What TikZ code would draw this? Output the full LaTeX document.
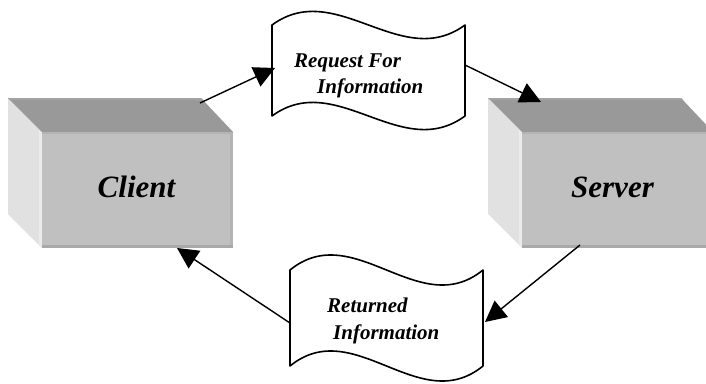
\documentclass[tikz,border=0pt]{standalone}
\usepackage{fontspec}
\setmainfont{Liberation Serif}
\usetikzlibrary{arrows.meta}
\definecolor{topface}{HTML}{999999}
\definecolor{toplight}{HTML}{A3A3A3}
\definecolor{frontface}{HTML}{C0C0C0}
\definecolor{sideface}{HTML}{E1E1E1}
\definecolor{sidelight}{HTML}{EBEBEB}
\definecolor{edgedark}{HTML}{A9A9A9}
\definecolor{edgemid}{HTML}{B4B4B4}
\tikzset{
  conn/.style={line width=1.4pt, -{Triangle[length=21pt,width=21pt]}},
  wave/.style={draw=black, line width=1.6pt, fill=white, line join=round},
  bigtext/.style={font=\fontsize{31}{36}\selectfont\bfseries\itshape, inner sep=0pt, anchor=base},
  smalltext/.style={font=\fontsize{21}{26}\selectfont\bfseries\itshape, inner sep=0pt, anchor=base west},
}
\begin{document}
\begin{tikzpicture}[x=1pt,y=-1pt]
\useasboundingbox (0,0) rectangle (706,383);
\clip (0,0) rectangle (706,383);
% boxes
\foreach \bx in {8,488} {
  \fill[sideface] (\bx,98) -- ++(34,34) -- ++(0,116) -- ++(-34,-34) -- cycle;
  \fill[sidelight] (\bx+31,129) -- (\bx+34,132) -- (\bx+34,248) -- (\bx+31,245) -- cycle;
  \fill[topface] (\bx,98) -- ++(193,0) -- ++(32,34) -- ++(-191,0) -- cycle;
  \fill[toplight] (\bx,98) -- ++(193,0) -- ++(2,2) -- ++(-193,0) -- cycle;
  \fill[frontface] (\bx+34,132) rectangle (\bx+225,248);
  \fill[edgemid] (\bx+34,132) rectangle (\bx+225,134);
  \fill[edgemid] (\bx+222,132) rectangle (\bx+225,248);
  \fill[edgedark] (\bx+34,245) rectangle (\bx+225,248);
}
% wavy documents
\path[wave] (272,25) .. controls (336,-22) and (401,72) .. (465,25)
  -- (465,116) .. controls (401,163) and (336,69) .. (272,116) -- cycle;
\path[wave] (290,270) .. controls (354,218) and (419,322) .. (483,270)
  -- (483,366) .. controls (419,418) and (354,314) .. (290,366) -- cycle;
% connector end points
\coordinate (cliout) at (200,103);
\coordinate (reqin) at (275,68);
\coordinate (reqout) at (465,65);
\coordinate (srvin) at (541,102);
\coordinate (srvout) at (580,245);
\coordinate (retin) at (485,322);
\coordinate (retout) at (290,323);
\coordinate (cliin) at (177,248);
% connectors
\draw[conn] (cliout) -- (reqin);
\draw[conn] (reqout) -- (srvin);
\draw[conn] (srvout) -- (retin);
\draw[conn] (retout) -- (cliin);
% texts
\node[bigtext] (client) at (136.5,197) {Client};
\node[bigtext] (server) at (612.5,197) {Server};
\node[smalltext] (req1) at (294,67) {Request For};
\node[smalltext] (req2) at (317,93) {Information};
\node[smalltext] (ret1) at (327,312) {Returned};
\node[smalltext] (ret2) at (333,339) {Information};
\end{tikzpicture}
\end{document}
